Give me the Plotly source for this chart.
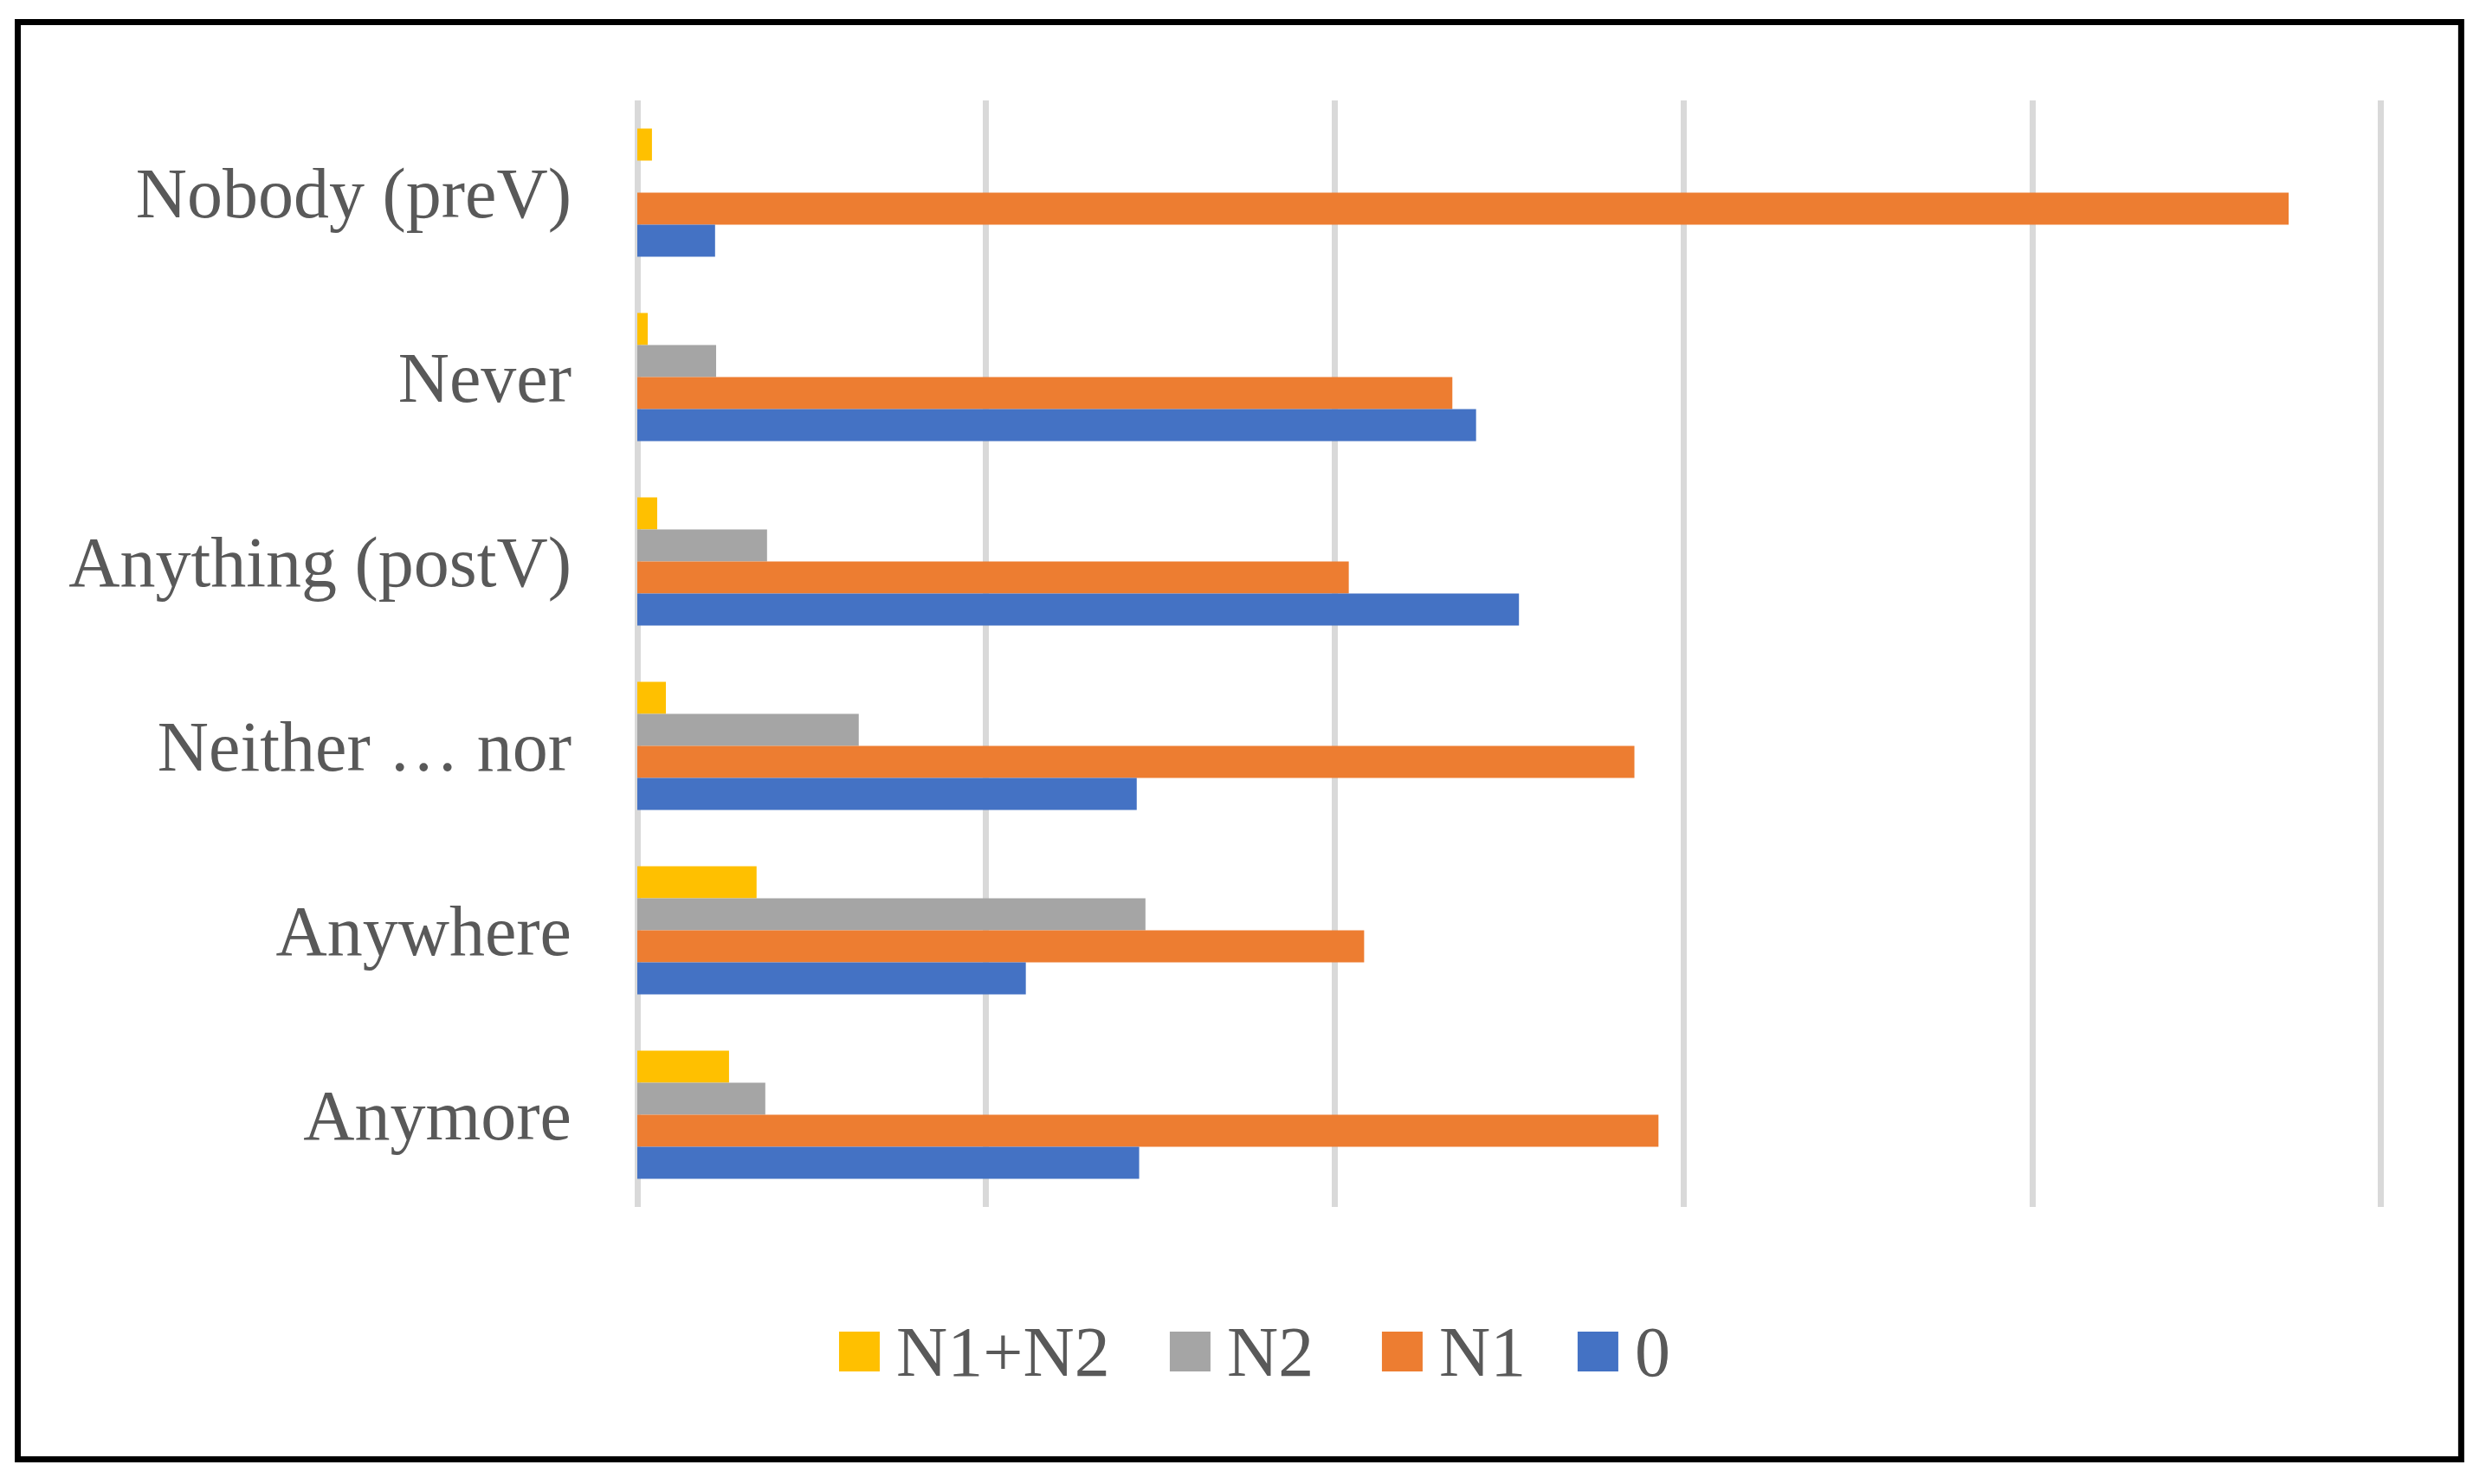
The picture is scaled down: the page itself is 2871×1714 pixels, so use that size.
import plotly.graph_objects as go

# ---- data (top to bottom) ----
categories = ["Nobody (preV)", "Never", "Anything (postV)", "Neither … nor", "Anywhere", "Anymore"]
series_names = ["N1+N2", "N2", "N1", "0"]
vals_n1n2 = [0.42, 0.30, 0.57, 0.82, 3.42, 2.63]
vals_n2 = [0.0, 2.26, 3.72, 6.35, 14.57, 3.67]
vals_n1 = [47.35, 23.37, 20.40, 28.59, 20.84, 29.28]
vals_0 = [2.23, 24.05, 25.28, 14.32, 11.14, 14.39]
colors = ["#FFC000", "#A5A5A5", "#ED7D31", "#4472C4"]

OFF = 8  # page body margin
W, H = 2871 - 2 * OFF, 1714 - 2 * OFF
XMAX = 50.5
X0_PX, GRID_PX = 736, 402.8
X1_PX = X0_PX + GRID_PX * XMAX / 10
L = X0_PX - OFF
R = W - (X1_PX - OFF)
T = 116 - OFF
B = H - (1394 - OFF)
PW, PH = W - L - R, H - T - B

def px(x):
    return (x - OFF - L) / PW

def py(y):
    return (H - B - (y - OFF)) / PH

FONT = "Liberation Serif"
TXT = "#595959"

fig = go.Figure()
for name, vals, col in zip(series_names, [vals_n1n2, vals_n2, vals_n1, vals_0], colors):
    fig.add_trace(go.Bar(y=categories, x=vals, name=name, orientation="h",
                         marker=dict(color=col, line=dict(width=0)), showlegend=False))

fig.update_layout(
    width=W, height=H,
    margin=dict(l=L, r=R, t=T, b=B, pad=0),
    paper_bgcolor="white", plot_bgcolor="white",
    barmode="group", bargap=0.305, bargroupgap=0,
    font=dict(family=FONT, color=TXT, size=82),
    xaxis=dict(range=[0, XMAX], tickvals=[10, 20, 30, 40, 50], showticklabels=False, showgrid=True,
               gridcolor="#D9D9D9", gridwidth=7, zeroline=True,
               zerolinecolor="#D9D9D9", zerolinewidth=7, showline=False, ticks=""),
    yaxis=dict(autorange="reversed", showgrid=False, zeroline=False, ticks="",
               ticklabelstandoff=75, tickfont=dict(family=FONT, color=TXT, size=82),
               showline=False),
)

# outer frame
fig.add_shape(type="rect", xref="paper", yref="paper",
              x0=px(20.5), x1=px(2842.5), y0=py(25.5), y1=py(1685.5),
              line=dict(color="black", width=7), fillcolor="rgba(0,0,0,0)", layer="above")

# manual legend
leg_items = [("N1+N2", 969, colors[0]), ("N2", 1351, colors[1]), ("N1", 1596, colors[2]), ("0", 1822, colors[3])]
ly = 1561
for name, x0, col in leg_items:
    fig.add_shape(type="rect", xref="paper", yref="paper",
                  x0=px(x0), x1=px(x0 + 47), y0=py(ly - 23), y1=py(ly + 23),
                  line=dict(width=0), fillcolor=col)
    fig.add_annotation(xref="paper", yref="paper", x=px(x0 + 64), y=py(ly),
                       text=name, showarrow=False, xanchor="left", yanchor="middle",
                       font=dict(family=FONT, color=TXT, size=82))

fig.write_html("out.html")
